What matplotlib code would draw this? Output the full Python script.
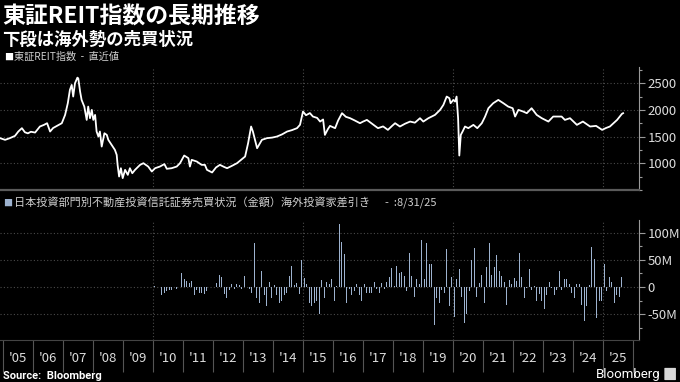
import numpy as np
import matplotlib
matplotlib.use('Agg')
import matplotlib.pyplot as plt
from matplotlib.ticker import FixedLocator, MultipleLocator, FuncFormatter
from matplotlib.patches import FancyBboxPatch

plt.rcParams['font.family'] = ['Noto Sans CJK JP', 'DejaVu Sans']

# 東証REIT指数 (decimal year, index level)
reit_year = [2004.90, 2005.07, 2005.23, 2005.40, 2005.51, 2005.63, 2005.73, 2005.83, 2005.93,
             2006.07, 2006.23, 2006.37, 2006.47, 2006.57, 2006.67, 2006.80, 2006.96, 2007.07,
             2007.16, 2007.23, 2007.29, 2007.34, 2007.40, 2007.48, 2007.51, 2007.57, 2007.62,
             2007.71, 2007.79, 2007.84, 2007.90, 2007.96, 2008.01, 2008.07, 2008.12, 2008.18,
             2008.23, 2008.29, 2008.38, 2008.46, 2008.51, 2008.62, 2008.73, 2008.79, 2008.82,
             2008.87, 2008.93, 2008.99, 2009.07, 2009.16, 2009.23, 2009.31, 2009.40, 2009.57,
             2009.68, 2009.84, 2009.96, 2010.07, 2010.23, 2010.38, 2010.46, 2010.62, 2010.79,
             2010.90, 2011.04, 2011.18, 2011.23, 2011.29, 2011.46, 2011.62, 2011.73, 2011.80,
             2011.97, 2012.10, 2012.23, 2012.37, 2012.47, 2012.63, 2012.80, 2012.93, 2013.07,
             2013.17, 2013.27, 2013.33, 2013.47, 2013.63, 2013.80, 2013.97, 2014.13, 2014.30,
             2014.47, 2014.63, 2014.80, 2014.90, 2015.00, 2015.10, 2015.23, 2015.33, 2015.47,
             2015.57, 2015.67, 2015.73, 2015.83, 2015.90, 2016.07, 2016.17, 2016.30, 2016.43,
             2016.57, 2016.73, 2016.90, 2017.00, 2017.13, 2017.30, 2017.50, 2017.67, 2017.83,
             2017.97, 2018.07, 2018.23, 2018.40, 2018.57, 2018.73, 2018.90, 2019.01, 2019.18,
             2019.40, 2019.57, 2019.68, 2019.79, 2019.88, 2019.92, 2020.01, 2020.07, 2020.12,
             2020.17, 2020.21, 2020.26, 2020.32, 2020.40, 2020.51, 2020.68, 2020.81, 2020.96,
             2021.07, 2021.18, 2021.34, 2021.51, 2021.68, 2021.84, 2021.99, 2022.07, 2022.18,
             2022.34, 2022.46, 2022.62, 2022.79, 2022.96, 2023.18, 2023.34, 2023.62, 2023.73,
             2023.90, 2024.13, 2024.33, 2024.57, 2024.77, 2024.97, 2025.10, 2025.23, 2025.47,
             2025.63, 2025.67]
reit_value = [1470, 1438, 1470, 1513, 1594, 1657, 1580, 1560, 1590,
              1575, 1688, 1720, 1750, 1594, 1660, 1700, 1750, 1906,
              2125, 2375, 2468, 2250, 2500, 2605, 2590, 2343, 2187,
              2062, 1812, 2062, 1844, 2000, 1812, 1906, 1594, 1500,
              1594, 1312, 1562, 1531, 1438, 1344, 1250, 1156, 969,
              750, 906, 720, 875, 781, 906, 812, 875, 969,
              1000, 937, 844, 906, 937, 983, 895, 906, 937,
              1000, 1144, 1094, 937, 1063, 1031, 969, 969, 875,
              826, 920, 969, 930, 906, 950, 1000, 1060, 1125,
              1375, 1688, 1594, 1281, 1438, 1470, 1480, 1500, 1540,
              1594, 1620, 1657, 1720, 1969, 1900, 1940, 1875, 1850,
              1781, 1820, 1531, 1640, 1700, 1657, 1800, 1938, 1870,
              1844, 1800, 1750, 1780, 1812, 1740, 1657, 1690, 1625,
              1700, 1750, 1688, 1740, 1781, 1760, 1844, 1781, 1844,
              1906, 2000, 2094, 2250, 2219, 2125, 2187, 2156, 2250,
              1844, 1144, 1531, 1594, 1688, 1657, 1719, 1657, 1750,
              1875, 2031, 2125, 2187, 2125, 2062, 2031, 1875, 2000,
              1969, 1938, 2031, 1906, 1844, 1781, 1875, 1875, 1812,
              1844, 1719, 1781, 1688, 1700, 1625, 1660, 1688, 1812,
              1925, 1938]

# 海外投資家差引き, monthly from Jan 2010 to Aug 2025 (millions)
flow_start = 2010
flows = [2, 1, 0, -14, -10, -8, -6, -5, 0, -3, 0, 25,
         15, 12, 8, 12, -15, -5, -10, -10, -12, -8, 0, 0,
         0, 8, 22, 18, -12, -20, -5, 5, -3, 6, 4, -3,
         20, 0, -3, -10, 80, -20, -30, 30, -15, -35, 10, -20,
         3, -15, -30, -25, -15, -10, 20, 38, 4, 7, -12, 50,
         16, 5, -30, -35, -30, -25, -50, 13, -20, 10, 5, 14,
         -25, 2, 115, 82, 60, -30, -3, -15, -8, 6, -15, -25,
         5, -10, -10, -10, 10, -3, -10, 8, -3, 10, 18, 35,
         2, 38, 25, 28, 20, -8, 62, 20, -18, 15, 5, 87,
         15, 80, 42, 42, -70, -20, -30, -5, -10, 70, -35, 18,
         -55, 15, 33, -18, -65, -50, -8, 50, 72, -18, 8, 22,
         -30, 36, 80, 22, 36, 58, 30, 20, 10, -33, 13, 5,
         16, 12, 62, 18, -20, -2, 33, -5, 2, -25, -12, -25,
         -40, -15, 10, -2, -15, -6, 30, -5, 15, 14, 5, -10,
         -20, 5, 6, -32, -62, -35, 4, 73, 52, -57, -25, -25,
         43, -8, 18, 10, -30, -15, -18, 18]

year_labels = ["'05", "'06", "'07", "'08", "'09", "'10", "'11", "'12", "'13", "'14", "'15",
               "'16", "'17", "'18", "'19", "'20", "'21", "'22", "'23", "'24", "'25"]

bg = 'black'
bar_color = '#9db2cf'
grid_color = '#4a4a4a'
text_color = '#dcdcdc'
xlim = (2004.9, 2026.2)

fig = plt.figure(figsize=(6.8, 3.82), dpi=100, facecolor=bg)
ax1 = fig.add_axes([0, 0.503, 0.9397, 0.321])
ax2 = fig.add_axes([0, 0.110, 0.9397, 0.314])

for ax in (ax1, ax2):
    ax.set_facecolor(bg)
    ax.set_xlim(*xlim)
    for s in ('top', 'left'):
        ax.spines[s].set_visible(False)
    ax.spines['right'].set_color('#9a9a9a')
    ax.yaxis.tick_right()
    ax.tick_params(axis='y', which='major', colors='#9a9a9a', labelcolor=text_color,
                   labelsize=9.5, length=4, width=0.8, pad=2)
    ax.tick_params(axis='y', which='minor', colors='#9a9a9a', length=2.5, width=0.8)
    ax.grid(axis='y', color=grid_color, linestyle=(0, (1, 2)), linewidth=0.8)
    for yr in (2010, 2015, 2020, 2025):
        ax.axvline(yr, color=grid_color, linestyle=(0, (1, 2)), linewidth=0.8, zorder=0)
    ax.set_axisbelow(True)

# top: REIT index
ax1.plot(reit_year, reit_value, color='white', linewidth=1.3)
ax1.set_ylim(500, 2800)
ax1.yaxis.set_major_locator(FixedLocator([1000, 1500, 2000, 2500]))
ax1.yaxis.set_minor_locator(MultipleLocator(250))
ax1.spines['bottom'].set_color('#5a5a5a')
ax1.spines['bottom'].set_linewidth(1.6)
ax1.tick_params(axis='x', which='both', bottom=False, labelbottom=False)

# bottom: foreign investor net flows
bar_x = flow_start + (np.arange(len(flows)) + 0.5) / 12
ax2.bar(bar_x, flows, width=0.045, color=bar_color, linewidth=0)
ax2.set_ylim(-97, 123)
ax2.yaxis.set_major_locator(FixedLocator([-50, 0, 50, 100]))
ax2.yaxis.set_minor_locator(MultipleLocator(25))
ax2.yaxis.set_major_formatter(FuncFormatter(lambda v, p: '0' if v == 0 else f'{int(v)}M'))
ax2.spines['bottom'].set_color('#444444')
ax2.spines['bottom'].set_linewidth(0.8)
ax2.xaxis.set_major_locator(FixedLocator(np.arange(2005, 2027)))
ax2.xaxis.set_minor_locator(FixedLocator(np.arange(2005, 2026) + 0.5))
ax2.tick_params(axis='x', which='major', length=23, width=0.8, color='#555555',
                labelbottom=False)
ax2.tick_params(axis='x', which='minor', length=0, pad=9, labelsize=9.5,
                labelcolor=text_color)
ax2.set_xticklabels(year_labels, minor=True)

# titles and legends
fig.text(0.003, 0.985, '東証REIT指数の長期推移', color='white', fontsize=16.5,
         fontweight='bold', va='top', ha='left')
fig.text(0.003, 0.918, '下段は海外勢の売買状況', color='white', fontsize=12.5,
         fontweight='bold', va='top', ha='left')
fig.text(0.006, 0.851, '■', color='white', fontsize=6.5, va='center', ha='left')
fig.text(0.020, 0.851, '東証REIT指数  -  直近値', color='#cfcfcf', fontsize=7.3,
         va='center', ha='left')
fig.text(0.005, 0.468, '■', color=bar_color, fontsize=6.5, va='center', ha='left')
fig.text(0.020, 0.468, '日本投資部門別不動産投資信託証券売買状況（金額）海外投資家差引き      -  :8/31/25',
         color='#cfcfcf', fontsize=8, va='center', ha='left')

fig.text(0.004, 0.016, 'Source:  Bloomberg', color='white', fontsize=8,
         fontweight='bold', va='center', ha='left', family='Roboto')
fig.text(0.972, 0.020, 'Bloomberg', color='white', fontsize=9.5,
         va='center', ha='right', family='Roboto')
fig.patches.append(FancyBboxPatch((0.978, 0.006), 0.015, 0.03,
                                  boxstyle='round,pad=0.001', transform=fig.transFigure,
                                  facecolor='#d8d8d8', edgecolor='none'))

fig.savefig('out.png', dpi=100, facecolor=bg)
